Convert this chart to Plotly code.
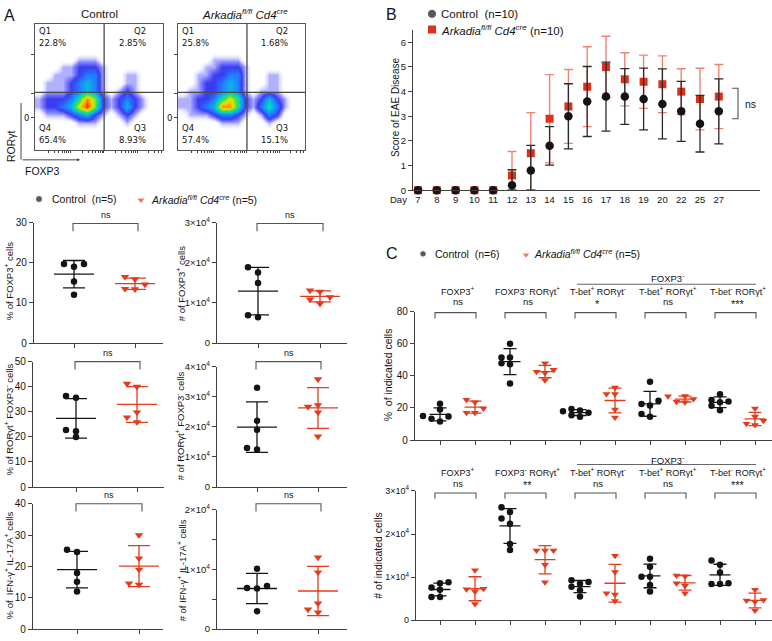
import numpy as np
import plotly.graph_objects as go

W, H = 772, 641
FONT = "Liberation Sans, Arial, Helvetica, sans-serif"
FLOW_FONT = "DejaVu Sans, sans-serif"
INK = "#141414"
AXC = "#404040"
RED = "#e43a1d"
RED_LIGHT = "#ee8470"
BRACKET = "#555555"

# ---------------- Panel A: flow cytometry ----------------
flow_titles = ["Control", "<i>Arkadia<sup>fl/fl</sup> Cd4<sup>cre</sup></i>"]
quadrant_names = ["Q1", "Q2", "Q3", "Q4"]
quadrant_pct_ctrl = ["22.8%", "2.85%", "8.93%", "65.4%"]
quadrant_pct_ko = ["25.8%", "1.68%", "15.1%", "57.4%"]
gate_foxp3 = [5.4, 5.43]
gate_rorgt = [4.57, 4.57]
# coarse density (rows top -> bottom, FOXP3 left -> right)
density_ctrl = [
    [0, 0, 0, 0, 0, 0, 0, 0, 0, 0, 0, 0, 0, 0, 0, 0],
    [0, 0, 0, 0, 0, 0, 0, 0, 0, 0, 0, 0, 0, 0, 0, 0],
    [0, 0, 0, 0, 0, 0, 0, 0, 0, 0, 0, 0, 0, 0, 0, 0],
    [0, 0, 0, 0, 0, 0, 0, 0, 0, 0, 0, 0, 0, 0, 0, 0],
    [0, 0, 0, 0, 0, 1, 1, 1, 0, 0, 0, 0, 0, 0, 0, 0],
    [0, 0, 0, 1, 1, 2, 2, 2, 1, 0, 0, 0, 0, 0, 0, 0],
    [0, 0, 1, 1, 1, 2, 3, 3, 1, 0, 0, 1, 1, 0, 0, 0],
    [0, 1, 1, 1, 2, 3, 4, 3, 1, 0, 0, 1, 1, 0, 0, 0],
    [0, 1, 1, 1, 2, 3, 4, 3, 1, 0, 1, 2, 1, 0, 0, 0],
    [1, 2, 2, 2, 3, 5, 8, 6, 2, 1, 2, 3, 2, 1, 0, 0],
    [1, 2, 2, 3, 4, 7, 9, 6, 2, 1, 2, 4, 2, 1, 0, 0],
    [0, 1, 1, 1, 2, 3, 4, 2, 1, 0, 1, 2, 1, 0, 0, 0],
    [0, 0, 0, 0, 0, 1, 1, 1, 0, 0, 0, 1, 0, 0, 0, 0],
    [0, 0, 0, 0, 0, 0, 0, 0, 0, 0, 0, 0, 0, 0, 0, 0],
    [0, 0, 0, 0, 0, 0, 0, 0, 0, 0, 0, 0, 0, 0, 0, 0],
    [0, 0, 0, 0, 0, 0, 0, 0, 0, 0, 0, 0, 0, 0, 0, 0],
]
density_ko = [
    [0, 0, 0, 0, 0, 0, 0, 0, 0, 0, 0, 0, 0, 0, 0, 0],
    [0, 0, 0, 0, 0, 0, 0, 0, 0, 0, 0, 0, 0, 0, 0, 0],
    [0, 0, 0, 0, 0, 0, 0, 0, 0, 0, 0, 0, 0, 0, 0, 0],
    [0, 0, 0, 0, 0, 0, 0, 0, 0, 0, 0, 0, 0, 0, 0, 0],
    [0, 0, 0, 0, 1, 1, 1, 1, 0, 0, 0, 0, 0, 0, 0, 0],
    [0, 0, 0, 1, 1, 2, 2, 2, 1, 0, 0, 0, 0, 0, 0, 0],
    [0, 0, 1, 1, 2, 2, 3, 3, 1, 0, 0, 1, 1, 0, 0, 0],
    [0, 0, 1, 2, 2, 3, 4, 3, 1, 0, 0, 1, 1, 0, 0, 0],
    [0, 1, 1, 2, 2, 3, 4, 3, 1, 0, 1, 1, 1, 0, 0, 0],
    [1, 1, 2, 2, 3, 5, 7, 5, 2, 1, 2, 4, 2, 1, 0, 0],
    [1, 1, 2, 3, 4, 8, 8, 5, 2, 1, 3, 5, 3, 1, 0, 0],
    [0, 1, 1, 1, 2, 3, 3, 2, 1, 0, 1, 3, 2, 0, 0, 0],
    [0, 0, 0, 0, 0, 1, 1, 1, 0, 0, 0, 1, 0, 0, 0, 0],
    [0, 0, 0, 0, 0, 0, 0, 0, 0, 0, 0, 0, 0, 0, 0, 0],
    [0, 0, 0, 0, 0, 0, 0, 0, 0, 0, 0, 0, 0, 0, 0, 0],
    [0, 0, 0, 0, 0, 0, 0, 0, 0, 0, 0, 0, 0, 0, 0, 0],
]

# ---------------- Panel A: dot plots ----------------
foxp3_pct_ctrl = [19.7, 19.0, 19.7, 15.3, 12.0]
foxp3_pct_ko = [16.5, 15.9, 14.6, 13.4, 13.5]
foxp3_num_ctrl = [18850, 17560, 14950, 6400, 6900]
foxp3_num_ko = [13100, 12800, 11400, 10900, 9800]
rorgt_pct_ctrl = [36.3, 35.6, 22.8, 22.3, 20.0]
rorgt_pct_ko = [40.0, 41.2, 29.8, 27.8, 25.9]
rorgt_num_ctrl = [33000, 22000, 19000, 12500, 13000]
rorgt_num_ko = [35800, 26700, 27200, 24800, 16800]
ifn_il17_pct_ctrl = [25.3, 24.6, 17.9, 15.1, 12.0]
ifn_il17_pct_ko = [30.0, 22.6, 19.0, 14.2, 14.6]
ifn_il17_num_ctrl = [10100, 7200, 6800, 6900, 3000]
ifn_il17_num_ko = [12000, 9500, 4300, 2800, 3300]
num_tick_labels_3 = ["0", "1×10<sup>4</sup>", "2×10<sup>4</sup>", "3×10<sup>4</sup>"]
num_tick_labels_4 = ["0", "1×10<sup>4</sup>", "2×10<sup>4</sup>", "3×10<sup>4</sup>", "4×10<sup>4</sup>"]
num_tick_labels_2 = ["0", "", "1×10<sup>4</sup>", "", "2×10<sup>4</sup>"]

# ---------------- Panel B: EAE score ----------------
days = ["7", "8", "9", "10", "11", "12", "13", "14", "15", "16", "17", "18", "19", "20", "22", "25", "27"]
eae_ctrl_mean = [0, 0, 0, 0, 0, 0.2, 0.8, 1.8, 3.0, 3.6, 3.8, 3.8, 3.7, 3.5, 3.2, 2.7, 3.2]
eae_ctrl_sd = [0, 0, 0, 0, 0, 0.63, 1.02, 0.78, 1.32, 1.42, 1.4, 1.13, 1.25, 1.42, 1.22, 1.15, 1.32]
eae_ko_mean = [0, 0, 0, 0, 0, 0.6, 1.5, 2.9, 3.4, 4.2, 5.0, 4.5, 4.4, 4.3, 4.0, 3.7, 3.8]
eae_ko_sd = [0, 0, 0, 0, 0, 0.97, 1.65, 1.79, 1.5, 1.62, 1.25, 1.08, 1.08, 1.15, 0.93, 1.25, 1.3]

# ---------------- Panel C ----------------
c_groups = ["FOXP3<sup>+</sup>", "FOXP3<sup>-</sup> RORγt<sup>+</sup>", "T-bet<sup>+</sup> RORγt<sup>-</sup>",
            "T-bet<sup>+</sup> RORγt<sup>+</sup>", "T-bet<sup>-</sup> RORγt<sup>+</sup>"]
c_pct_sig = ["ns", "ns", "*", "ns", "***"]
c_num_sig = ["ns", "**", "ns", "ns", "***"]
c_pct_ctrl = [
    [22.6, 19.0, 15.0, 14.6, 13.3, 11.5],
    [60.0, 51.5, 51.5, 47.9, 47.3, 35.2],
    [19.4, 18.4, 18.0, 17.0, 15.5, 14.5],
    [36.4, 24.5, 22.4, 21.6, 16.2, 14.5],
    [28.5, 25.0, 24.0, 23.6, 21.4, 18.6],
]
c_pct_ko = [
    [25.1, 23.6, 19.6, 17.0, 17.0],
    [47.9, 43.8, 42.6, 41.8, 37.2],
    [32.7, 28.7, 28.7, 19.0, 14.1],
    [27.5, 27.3, 25.6, 23.8, 23.6],
    [19.6, 14.6, 12.0, 10.2, 9.4],
]
c_num_ctrl = [
    [8800, 8600, 7600, 7100, 5400, 5400],
    [26200, 25100, 23600, 22400, 17700, 16300],
    [9300, 8900, 8500, 7800, 7000, 5500],
    [14300, 12400, 10100, 10100, 8200, 6700],
    [13900, 12900, 11100, 8600, 8400, 8400],
]
c_num_ko = [
    [11600, 7300, 7200, 6700, 3800],
    [16200, 16200, 16200, 12900, 8800],
    [15000, 11200, 6300, 6000, 4500],
    [10400, 10200, 8600, 8000, 6300],
    [7100, 4700, 4600, 4300, 2300],
]

KO_LABEL = "<i>Arkadia<sup>fl/fl</sup> Cd4<sup>cre</sup></i>"

# ================= helpers =================
layout = {}
ann = []
shp = []
traces = []


def X(px):
    return px / W


def Y(py):
    return 1 - py / H


def make_axes(n, xl, xr, yt, yb, xrange, yrange, xkw=None, ykw=None):
    xk = "xaxis" if n == 1 else f"xaxis{n}"
    yk = "yaxis" if n == 1 else f"yaxis{n}"
    xid = "x" if n == 1 else f"x{n}"
    yid = "y" if n == 1 else f"y{n}"
    base = dict(showgrid=False, zeroline=False, showline=True, linecolor=AXC, linewidth=1.3,
                ticks="outside", tickcolor=AXC, ticklen=4, tickwidth=1.2, fixedrange=True,
                tickfont=dict(family=FONT, size=10, color=INK))
    xa = dict(base, domain=[X(xl), X(xr)], anchor=yid, range=xrange, showticklabels=False)
    ya = dict(base, domain=[Y(yb), Y(yt)], anchor=xid, range=yrange)
    xa.update(xkw or {})
    ya.update(ykw or {})
    layout[xk] = xa
    layout[yk] = ya
    return xid, yid


def text(px, py, s, size=10, xanchor="center", yanchor="middle", angle=0, color=INK, family=FONT):
    ann.append(dict(x=X(px), y=Y(py), xref="paper", yref="paper", text=s, showarrow=False,
                    xanchor=xanchor, yanchor=yanchor, textangle=angle,
                    font=dict(size=size, color=color, family=family)))


def bracket(x0, x1, y, leg=7, color=BRACKET):
    shp.append(dict(type="path", xref="paper", yref="paper",
                    path=f"M {X(x0)},{Y(y + leg)} L {X(x0)},{Y(y)} L {X(x1)},{Y(y)} L {X(x1)},{Y(y + leg)}",
                    line=dict(color=color, width=1.1)))


def hline(x0, x1, y, color=BRACKET, width=1.1):
    shp.append(dict(type="line", xref="paper", yref="paper", x0=X(x0), x1=X(x1), y0=Y(y), y1=Y(y),
                    line=dict(color=color, width=width)))


def swarm(ypx, step, dmin):
    order = np.argsort(ypx, kind="stable")
    placed = []
    offs = np.zeros(len(ypx))
    for i in order:
        xo = 0.0
        for k in (0, -1, 1, -2, 2, -3, 3):
            xo = k * step
            if all((xo - a) ** 2 + (ypx[i] - b) ** 2 >= dmin ** 2 for a, b in placed):
                break
        offs[i] = xo
        placed.append((xo, ypx[i]))
    return offs


def dot_group(xid, yid, cx, vals, color, symbol, size, ppx, ppy, step, mean_hw, cap, lw=1.3):
    vals = np.asarray(vals, float)
    m = vals.mean()
    sd = vals.std(ddof=1)
    traces.append(go.Scatter(x=[cx - mean_hw / ppx, cx + mean_hw / ppx], y=[m, m], mode="lines",
                             line=dict(color=color, width=lw), xaxis=xid, yaxis=yid,
                             hoverinfo="skip", showlegend=False))
    traces.append(go.Scatter(x=[cx], y=[m], mode="markers", marker=dict(size=1, color="rgba(0,0,0,0)"),
                             error_y=dict(type="data", array=[sd], color=color, thickness=lw, width=cap),
                             xaxis=xid, yaxis=yid, hoverinfo="skip", showlegend=False))
    offs = swarm(vals * ppy, step, size * 0.9)
    traces.append(go.Scatter(x=cx + offs / ppx, y=vals, mode="markers",
                             marker=dict(symbol=symbol, size=size, color=color, line=dict(width=0)),
                             xaxis=xid, yaxis=yid, hoverinfo="skip", showlegend=False, cliponaxis=False))


# ================= Panel A: flow plots =================
flow_boxes = [(35, 163), (178, 305)]
flow_y = (17, 146)
ncell = len(density_ctrl)
cell = 10.0 / ncell
centers = [(i + 0.5) * cell for i in range(ncell)]
flow_colorscale = [[0.0, "#ffffff"], [0.03, "#ffffff"], [0.08, "#dedeff"], [0.13, "#9494ff"],
                   [0.22, "#3c3cf2"], [0.36, "#1a8cff"], [0.5, "#00d2c8"], [0.62, "#3ee04a"],
                   [0.76, "#e6e600"], [0.88, "#ff9400"], [1.0, "#ff2400"]]
minor_ticks = []
for d0 in (0.3, 2.9, 5.5, 8.1):
    for k in range(2, 10):
        v = d0 + np.log10(k) * 2.6
        if v < 10:
            minor_ticks.append(round(float(v), 3))

for idx, (dens, pcts) in enumerate([(density_ctrl, quadrant_pct_ctrl), (density_ko, quadrant_pct_ko)]):
    n = idx + 1
    xl, xr = flow_boxes[idx]
    xid, yid = make_axes(n, xl, xr, flow_y[0], flow_y[1], [0, 10], [0, 10],
                         xkw=dict(mirror=True, linewidth=1, ticklen=2, tickwidth=0.8,
                                  tickvals=minor_ticks, linecolor="#555"),
                         ykw=dict(mirror=True, linewidth=1, ticklen=3, tickwidth=0.8, linecolor="#555",
                                  tickvals=[2.56, 4.5, 7.52], ticktext=["0", "", ""],
                                  tickfont=dict(family=FLOW_FONT, size=8.5, color=INK)))
    traces.append(go.Heatmap(z=np.array(dens)[::-1], x=centers, y=centers, colorscale=flow_colorscale,
                             zmin=0, zmax=9, zsmooth="best", showscale=False, hoverinfo="skip",
                             xaxis=xid, yaxis=yid))
    shp.append(dict(type="line", xref=xid, yref=yid, x0=gate_foxp3[idx], x1=gate_foxp3[idx], y0=0, y1=10,
                    line=dict(color="#4a4a4a", width=1.3)))
    shp.append(dict(type="line", xref=xid, yref=yid, x0=0, x1=10, y0=gate_rorgt[idx], y1=gate_rorgt[idx],
                    line=dict(color="#4a4a4a", width=1.3)))
    # quadrant labels: Q1 (top-left), Q2 (top-right), Q3 (bottom-right), Q4 (bottom-left)
    lx = xl + 2
    rx = xr - 15
    text(lx, 25, quadrant_names[0], 8.5, "left", family=FLOW_FONT)
    text(lx, 37, pcts[0], 8.5, "left", family=FLOW_FONT)
    text(rx, 25, quadrant_names[1], 8.5, "right", family=FLOW_FONT)
    text(rx, 37, pcts[1], 8.5, "right", family=FLOW_FONT)
    text(rx, 124, quadrant_names[2], 8.5, "right", family=FLOW_FONT)
    text(rx, 136, pcts[2], 8.5, "right", family=FLOW_FONT)
    text(lx, 124, quadrant_names[3], 8.5, "left", family=FLOW_FONT)
    text(lx, 136, pcts[3], 8.5, "left", family=FLOW_FONT)
    text((xl + xr) / 2 + (0 if idx == 0 else 3), 7, flow_titles[idx], 11.5)

# axis arrows for flow
ann.append(dict(x=X(80), y=Y(156), xref="paper", yref="paper", ax=-59, ay=0, text="", showarrow=True,
                arrowhead=2, arrowsize=0.6, arrowwidth=1, arrowcolor="#444"))
ann.append(dict(x=X(21), y=Y(98), xref="paper", yref="paper", ax=0, ay=58, text="", showarrow=True,
                arrowhead=0, arrowwidth=1, arrowcolor="#444"))
text(11, 142, "RORγt", 10.5, angle=-90)
text(23, 167, "FOXP3", 10.5, "left")
text(2, 9, "A", 16, "left")

# ================= Panel A: dot plots =================
a_panels = [
    dict(n=3, xl=34, xr=163, yt=220, yb=343, c=(74, 135), yr=[0, 30], tv=[0, 10, 20, 30],
         tt=["0", "10", "20", "30"], title="% of FOXP3<sup>+</sup> cells", tx=9, ty=280,
         ctrl=foxp3_pct_ctrl, ko=foxp3_pct_ko, by=221),
    dict(n=4, xl=217, xr=347, yt=220, yb=343, c=(258, 320), yr=[0, 30000], tv=[0, 1e4, 2e4, 3e4],
         tt=num_tick_labels_3, title="# of FOXP3<sup>+</sup> cells", tx=181, ty=283,
         ctrl=foxp3_num_ctrl, ko=foxp3_num_ko, by=221),
    dict(n=5, xl=33, xr=164, yt=362, yb=490, c=(76, 137), yr=[0, 50], tv=[0, 10, 20, 30, 40, 50],
         tt=["0", "10", "20", "30", "40", "50"], title="% of RORγt<sup>+</sup> FOXP3<sup>-</sup> cells",
         tx=9, ty=421, ctrl=rorgt_pct_ctrl, ko=rorgt_pct_ko, by=362),
    dict(n=6, xl=217, xr=347, yt=367, yb=490, c=(257, 318), yr=[0, 40000], tv=[0, 1e4, 2e4, 3e4, 4e4],
         tt=num_tick_labels_4, title="# of RORγt<sup>+</sup> FOXP3<sup>-</sup> cells", tx=180, ty=428,
         ctrl=rorgt_num_ctrl, ko=rorgt_num_ko, by=362),
    dict(n=7, xl=33, xr=163, yt=507, yb=635, c=(77, 139), yr=[0, 40], tv=[0, 10, 20, 30, 40],
         tt=["0", "10", "20", "30", "40"], title="% of  IFN-γ<sup>+</sup> IL-17A<sup>+</sup> cells",
         tx=9, ty=570, ctrl=ifn_il17_pct_ctrl, ko=ifn_il17_pct_ko, by=507),
    dict(n=8, xl=217, xr=347, yt=513, yb=635, c=(257, 318), yr=[0, 20000],
         tv=[0, 5000, 10000, 15000, 20000], tt=num_tick_labels_2,
         title="# of IFN-γ<sup>+</sup> IL-17A<sup>+</sup> cells", tx=182, ty=575,
         ctrl=ifn_il17_num_ctrl, ko=ifn_il17_num_ko, by=507),
]

for p in a_panels:
    c0, c1 = p["c"]
    unit = c1 - c0
    xr_ = [(p["xl"] - c0) / unit, (p["xr"] - c0) / unit]
    xid, yid = make_axes(p["n"], p["xl"], p["xr"], p["yt"], p["yb"], xr_, p["yr"],
                         xkw=dict(tickvals=[0, 1]),
                         ykw=dict(tickvals=p["tv"], ticktext=p["tt"],
                                  tickfont=dict(family=FONT, size=9.5 if p["n"] % 2 == 0 else 10, color=INK)))
    ppx = unit
    ppy = (p["yb"] - p["yt"]) / (p["yr"][1] - p["yr"][0])
    dot_group(xid, yid, 0, p["ctrl"], INK, "circle", 6.5, ppx, ppy, 10, 20, 11)
    dot_group(xid, yid, 1, p["ko"], RED, "triangle-down", 7.5, ppx, ppy, 10, 20, 11)
    text(p["tx"], p["ty"], p["title"], 9.5, angle=-90)
    bracket(c0 - 1, c1 + 3, p["by"], 8)
    text((c0 + c1) / 2 + 1, p["by"] - 2, "ns", 9, yanchor="bottom")

# legend A
text(50, 196, "Control  (n=5)", 10.5, "left")
text(149, 196, KO_LABEL + " (n=5)", 10.5, "left")

# ================= Panel B =================
b_c0, b_step = 418, 18.8
xidB, yidB = make_axes(9, 413, 760, 23, 187, [(413 - b_c0) / b_step, (760 - b_c0) / b_step], [0, 6.52],
                       xkw=dict(ticks="", tickvals=list(range(len(days))), ticktext=days, showticklabels=True,
                                tickfont=dict(family=FONT, size=9.5, color=INK)),
                       ykw=dict(tickvals=[0, 1, 2, 3, 4, 5, 6], tickfont=dict(family=FONT, size=9.5, color=INK)))
bx = list(range(len(days)))
ko_m = np.array(eae_ko_mean)
ko_s = np.array(eae_ko_sd)
ct_m = np.array(eae_ctrl_mean)
ct_s = np.array(eae_ctrl_sd)
traces.append(go.Scatter(x=bx, y=ko_m, mode="markers", marker=dict(symbol="square", size=8, color="#d9311b"),
                         error_y=dict(type="data", array=ko_s, arrayminus=np.minimum(ko_s, ko_m),
                                      color=RED_LIGHT, thickness=1.4, width=4.5),
                         xaxis=xidB, yaxis=yidB, cliponaxis=False, showlegend=False, hoverinfo="skip"))
traces.append(go.Scatter(x=bx, y=ct_m, mode="markers", marker=dict(symbol="circle", size=8.5, color=INK),
                         error_y=dict(type="data", array=ct_s, arrayminus=np.minimum(ct_s, ct_m),
                                      color="#2a2a2a", thickness=1.3, width=4.5),
                         xaxis=xidB, yaxis=yidB, cliponaxis=False, showlegend=False, hoverinfo="skip"))
text(409, 196, "Day", 9.5, "right")
text(396, 103, "Score of EAE Disease", 10, angle=-90)
shp.append(dict(type="path", xref="paper", yref="paper",
                path=f"M {X(732)},{Y(83)} L {X(738)},{Y(83)} L {X(738)},{Y(114)} L {X(732)},{Y(114)}",
                line=dict(color="#555", width=1.1)))
text(743, 99, "ns", 10.5, "left")
text(384, 8, "B", 16, "left")
text(439, 7, "Control  (n=10)", 11.5, "left")
text(439, 23, KO_LABEL + " (n=10)", 11.5, "left")

# ================= Panel C =================
c_c0, c_step = 440, 35.0
c_panels = [
    dict(n=10, xl=415, yt=311, yb=442, yr=[0, 80], tv=[0, 20, 40, 60, 80], tt=["0", "20", "40", "60", "80"],
         ctrl=c_pct_ctrl, ko=c_pct_ko, sig=c_pct_sig, title="%  of indicated cells", tx=388, ty=376,
         tfs=10, lab_y=290, sig_y=301, br_y=312, fox_y=277, fox_line=283),
    dict(n=11, xl=416, yt=494, yb=626, yr=[0, 30000], tv=[0, 1e4, 2e4, 3e4], tt=num_tick_labels_3,
         ctrl=c_num_ctrl, ko=c_num_ko, sig=c_num_sig, title="# of indicated cells", tx=378, ty=560,
         tfs=9, lab_y=475, sig_y=486, br_y=496, fox_y=462, fox_line=467),
]
for p in c_panels:
    ncat = 2 * len(c_groups)
    xid, yid = make_axes(p["n"], p["xl"], 772, p["yt"], p["yb"],
                         [(p["xl"] - c_c0) / c_step, (772 - c_c0) / c_step], p["yr"],
                         xkw=dict(tickvals=list(range(ncat))),
                         ykw=dict(tickvals=p["tv"], ticktext=p["tt"],
                                  tickfont=dict(family=FONT, size=p["tfs"], color=INK)))
    ppy = (p["yb"] - p["yt"]) / (p["yr"][1] - p["yr"][0])
    for g in range(len(c_groups)):
        dot_group(xid, yid, 2 * g, p["ctrl"][g], INK, "circle", 6.5, c_step, ppy, 8.5, 10.5, 6.5)
        dot_group(xid, yid, 2 * g + 1, p["ko"][g], RED, "triangle-down", 7, c_step, ppy, 8.5, 10.5, 6.5)
        xa = c_c0 + c_step * 2 * g
        xb = xa + c_step
        mid = (xa + xb) / 2
        text(mid, p["lab_y"], c_groups[g], 9)
        star = p["sig"][g] != "ns"
        text(mid, p["sig_y"] + (2 if star else 0), p["sig"][g], 11 if star else 9.5)
        bracket(xa - 5, xb + 1, p["br_y"], 6)
    text(667, p["fox_y"], "FOXP3<sup>-</sup>", 9.5)
    hline(577, 756, p["fox_line"], color="#666")
    text(p["tx"], p["ty"], p["title"], 10.5, angle=-90)

text(384, 252, "C", 16, "left")
text(433, 252, "Control  (n=6)", 10.5, "left")
text(532, 252, KO_LABEL + " (n=5)", 10.5, "left")

# ================= overlay for legend symbols =================
xo, yo = make_axes(12, 0, 772, 0, 641, [0, 772], [641, 0],
                   xkw=dict(visible=False), ykw=dict(visible=False))
traces.append(go.Scatter(x=[39, 432, 423], y=[196, 7, 252], mode="markers",
                         marker=dict(symbol="circle", size=[7, 9, 6.5], color=INK),
                         xaxis=xo, yaxis=yo, showlegend=False, hoverinfo="skip", cliponaxis=False))
traces.append(go.Scatter(x=[141, 526], y=[197, 253], mode="markers",
                         marker=dict(symbol="triangle-down", size=[7.5, 7], color=RED),
                         xaxis=xo, yaxis=yo, showlegend=False, hoverinfo="skip", cliponaxis=False))
traces.append(go.Scatter(x=[432], y=[23], mode="markers",
                         marker=dict(symbol="square", size=8, color="#d9311b"),
                         xaxis=xo, yaxis=yo, showlegend=False, hoverinfo="skip", cliponaxis=False))

fig = go.Figure(data=traces)
fig.update_layout(**layout)
fig.update_layout(width=W, height=H, margin=dict(l=0, r=0, t=0, b=0), autosize=False,
                  paper_bgcolor="white", plot_bgcolor="rgba(0,0,0,0)", showlegend=False,
                  annotations=ann, shapes=shp, font=dict(family=FONT, color=INK))
fig.write_html("out.html", config={"displayModeBar": False},
               post_script="document.body.style.margin='0px';document.body.style.overflow='hidden';")
